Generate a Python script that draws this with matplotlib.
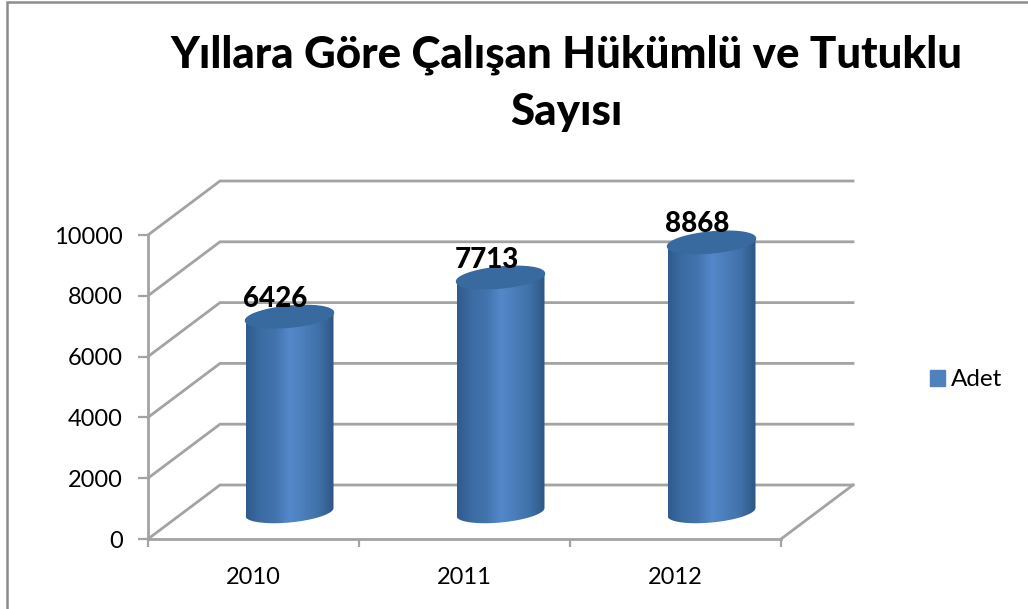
import numpy as np
import matplotlib
matplotlib.use("Agg")
import matplotlib.pyplot as plt
from matplotlib.colors import LinearSegmentedColormap
from matplotlib.lines import Line2D
from matplotlib.patches import Patch, Polygon

plt.rcParams['font.family'] = ['Lato', 'DejaVu Sans']

years = ["2010", "2011", "2012"]
adet = [6426, 7713, 8868]
y_ticks = [0, 2000, 4000, 6000, 8000, 10000]
title = "Yıllara Göre Çalışan Hükümlü ve Tutuklu\nSayısı"
series_name = "Adet"

W, H = 1028, 609
GREY = "#a3a3a3"

fig = plt.figure(figsize=(W / 100, H / 100), dpi=100)
# front plane of the 3d box is the axes itself
ax = fig.add_axes([148 / W, 1 - 539 / H, 633 / W, 304 / H])
ax.set_xlim(0, 3)
ax.set_ylim(0, 10000)
ax.patch.set_alpha(0)
for s in ax.spines.values():
    s.set_visible(False)

# pixel sizes converted to data units
px_x = 3 / 633
px_y = 10000 / 304
dx = 72 * px_x
dy = 54 * px_y

# outer frame, only left and top are inside the picture
fig.add_artist(Line2D([7 / W, 7 / W, 1], [0, 1 - 2 / H, 1 - 2 / H], transform=fig.transFigure,
                      color="#8c8c8c", lw=1.8, solid_joinstyle="miter"))

# walls and floor
for v in y_ticks:
    ax.plot([0, dx, 3 + dx], [v, v + dy, v + dy], color=GREY, lw=2.0, clip_on=False, zorder=1,
            solid_joinstyle="miter")
ax.plot([3, 3 + dx], [0, dy], color=GREY, lw=2.0, clip_on=False, zorder=1)
ax.plot([0, 3], [0, 0], color=GREY, lw=2.0, clip_on=False, zorder=1)
ax.plot([0, 0], [0, 10000], color=GREY, lw=2.0, clip_on=False, zorder=1)

ax.set_xticks([0, 1, 2, 3])
ax.set_xticklabels([])
ax.set_xticks([0.5, 1.5, 2.5], labels=years, minor=True)
ax.set_yticks(y_ticks)
ax.tick_params(axis="x", which="major", length=6, width=1.6, color=GREY)
ax.tick_params(axis="x", which="minor", length=0, pad=20, labelsize=17)
ax.tick_params(axis="y", length=7, width=1.6, color=GREY, labelsize=17, pad=11)

# cylinders
cmap = LinearSegmentedColormap.from_list(
    "cyl", ["#2f5b8e", "#3c6ca3", "#4273ad", "#5388cb", "#4a7db9", "#3f70a8", "#2f5684"])
half_w = 44 * px_x
half_h = 10.5 * px_y
skew = 4 * px_y
t = np.linspace(0, 2 * np.pi, 121)
t_low = np.linspace(np.pi, 2 * np.pi, 60)
t_up = np.linspace(0, np.pi, 60)
grad = np.linspace(0, 1, 256).reshape(1, -1)

for i, v in enumerate(adet):
    cx = i + 0.5 + dx / 2
    y0 = dy / 2
    y1 = y0 + v
    low_x = cx + half_w * np.cos(t_low)
    low_y = y0 + half_h * np.sin(t_low) + skew * np.cos(t_low)
    up_x = cx + half_w * np.cos(t_up)
    up_y = y1 + half_h * np.sin(t_up) + skew * np.cos(t_up)
    body = Polygon(np.column_stack([np.r_[low_x, up_x], np.r_[low_y, up_y]]),
                   closed=True, fc="none", ec="none", transform=ax.transData)
    ax.add_patch(body)
    im = ax.imshow(grad, cmap=cmap, aspect="auto", zorder=3,
                   extent=[cx - half_w, cx + half_w, y0 - 2 * half_h, y1 + 2 * half_h])
    im.set_clip_path(body)
    ax.fill(cx + half_w * np.cos(t), y1 + half_h * np.sin(t) + skew * np.cos(t),
            color="#386a9f", zorder=4, clip_on=False)
    ax.text(cx - 14 * px_x, y1 + 5 * px_y, str(v), ha="center", va="bottom", fontsize=20,
            fontweight=900, color="black", zorder=5)

ax.set_xlim(0, 3)
ax.set_ylim(0, 10000)

fig.text(566 / W, 1 - 83 / H, title, ha="center", va="center", fontsize=31.6, fontweight=900,
         linespacing=1.52, color="black")

ax.legend(handles=[Patch(color="#4f81bd", label=series_name)], loc="center left",
          bbox_to_anchor=(908 / W, 1 - 380 / H), bbox_transform=fig.transFigure, frameon=False,
          fontsize=17.5, handlelength=0.62, handleheight=0.62, handletextpad=0.25)

fig.savefig("out.png", dpi=100)
